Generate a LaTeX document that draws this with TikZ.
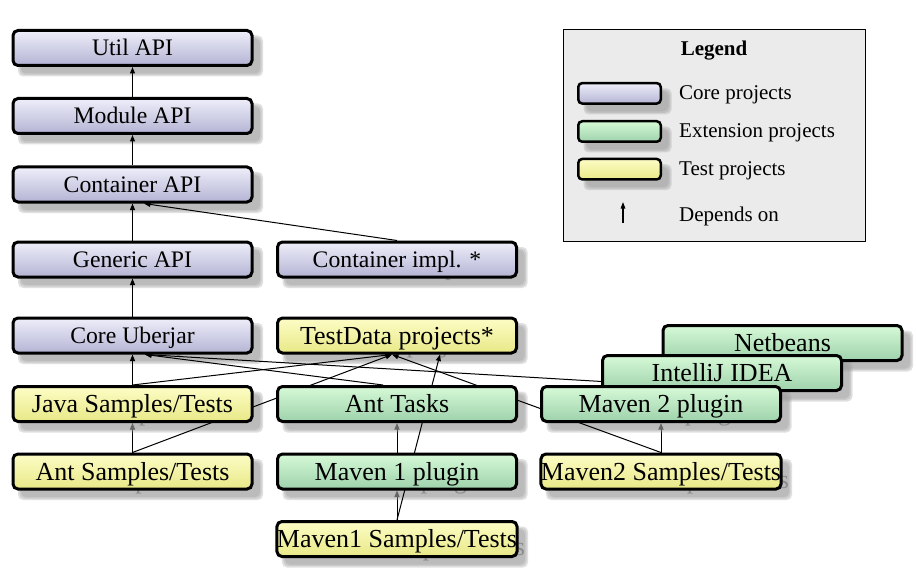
\documentclass[tikz,border=0pt]{standalone}
\usepackage{fontspec}
\setmainfont{Liberation Serif}
\usetikzlibrary{arrows.meta}
\pgfdeclarelayer{low}
\pgfdeclarelayer{shadowl}
\pgfdeclarelayer{tshadow}
\pgfdeclarelayer{high}
\pgfsetlayers{low,shadowl,tshadow,high,main}

\definecolor{coretop}{RGB}{238,238,250}
\definecolor{corebot}{RGB}{180,180,212}
\definecolor{exttop}{RGB}{214,249,214}
\definecolor{extbot}{RGB}{158,210,172}
\definecolor{testtop}{RGB}{253,253,198}
\definecolor{testbot}{RGB}{232,232,135}
\definecolor{legendbg}{RGB}{235,235,235}

\tikzset{
  corefont/.style={font=\fontsize{23.7}{28}\selectfont, text height=15.7pt, text depth=0pt},
  otherfont/.style={font=\fontsize{26}{30}\selectfont, text height=17.2pt, text depth=0pt},
  projbox/.style={rectangle, rounded corners=5pt, draw=black, line width=3pt,
    minimum width=239pt, minimum height=35pt, inner sep=0pt},
  corebox/.style={projbox, corefont, top color=coretop, bottom color=corebot},
  extbox/.style={projbox, otherfont, top color=exttop, bottom color=extbot},
  testbox/.style={projbox, otherfont, top color=testtop, bottom color=testbot},
  swatch/.style={line width=2.5pt, minimum width=82.5pt, minimum height=20.5pt, rounded corners=4pt},
  shadowfill/.style={fill=black!40, opacity=0.3, rounded corners=5pt},
  dep/.style={line width=1pt, -{Triangle[length=6.5pt,width=5pt]}},
  legarrow/.style={line width=1.2pt, -{Triangle[length=6.5pt,width=4.5pt]}},
  legendbox/.style={rectangle, draw=black, line width=1pt, fill=legendbg,
    minimum width=301.5pt, minimum height=211pt, inner sep=0pt},
  legendtext/.style={font=\fontsize{21}{25}\selectfont, inner sep=0pt},
}

\newcommand\proj[6]{%
  \node[#2] (#1) at (#4,#5) {#6};
  \begin{pgfonlayer}{shadowl}
    \foreach \d in {-1.5,0,1.5}{%
      \fill[shadowfill] ([shift={({8-\d},{8-\d})}]#1.north west) rectangle ([shift={({8+\d},{8+\d})}]#1.south east);
    }
  \end{pgfonlayer}
  \begin{pgfonlayer}{tshadow}
    \node[#3, inner sep=0pt, text=black!45] at ({#4+8},{#5+8}) {#6};
  \end{pgfonlayer}%
}

\begin{document}
\begin{tikzpicture}[x=1pt,y=-1pt]
\useasboundingbox (0,0) rectangle (916,575);
\begin{pgfonlayer}{low}
  \fill[white] (0,0) rectangle (916,575);
  \node[legendbox] (legend) at (714.25,135.5) {};
\end{pgfonlayer}

% legend
\node[legendtext, font=\bfseries\fontsize{21}{25}\selectfont, anchor=base] (legendtitle) at (714,55.7) {Legend};
\proj{swcore}{corebox, swatch}{corefont}{619.5}{93.3}{}
\proj{swext}{extbox, swatch}{otherfont}{619.5}{131.5}{}
\proj{swtest}{testbox, swatch}{otherfont}{619.5}{169.2}{}
\node[legendtext, anchor=base west] (lcore) at (679,100) {Core projects};
\node[legendtext, anchor=base west] (lext) at (679,137.7) {Extension projects};
\node[legendtext, anchor=base west] (ltest) at (679,175.7) {Test projects};
\node[legendtext, anchor=base west] (ldep) at (679,221) {Depends on};
\coordinate (arrS) at (623,223);
\coordinate (arrE) at (623,202);
\draw[legarrow] (arrS) -- (arrE);

% project nodes
\proj{util}{corebox}{corefont}{132.5}{48}{Util API}
\proj{module}{corebox}{corefont}{132.5}{116}{Module API}
\proj{cont}{corebox}{corefont}{132.5}{184.5}{Container API}
\proj{generic}{corebox}{corefont}{132.5}{259.5}{Generic API}
\proj{cimpl}{corebox}{corefont}{397}{259.5}{Container impl. *}
\proj{core}{corebox}{corefont}{132.5}{335.5}{Core Uberjar}
\proj{testdata}{testbox}{otherfont}{397}{335.5}{TestData projects*}
\proj{javas}{testbox}{otherfont}{132.5}{404}{Java Samples/Tests}
\proj{ant}{extbox}{otherfont}{397}{404}{Ant Tasks}
\proj{netbeans}{extbox}{otherfont}{782.5}{343}{Netbeans}
\proj{idea}{extbox}{otherfont}{722}{373}{IntelliJ IDEA}
\proj{mvn2}{extbox}{otherfont}{661}{404}{Maven 2 plugin}
\proj{ants}{testbox}{otherfont}{132.5}{471.5}{Ant Samples/Tests}
\proj{mvn1}{extbox}{otherfont}{397}{471.5}{Maven 1 plugin}
\proj{mvn2s}{testbox}{otherfont}{661}{471.5}{Maven2 Samples/Tests}
\proj{mvn1s}{testbox}{otherfont}{397}{539}{Maven1 Samples/Tests}

% dependencies
\begin{pgfonlayer}{high}
  \draw[dep] (module.north) -- (util.south);
  \draw[dep] (cont.north) -- (module.south);
  \draw[dep] (generic.north) -- (cont.south);
  \draw[dep] (cimpl.north) -- ([xshift=11.5pt]cont.south);
  \draw[dep] (core.north) -- (generic.south);
  \draw[dep] (javas.north) -- (core.south);
  \draw[dep] (javas.north) -- ([xshift=-5pt]testdata.south);
  \draw[dep] ([xshift=-14pt]ant.north) -- ([xshift=12.5pt]core.south);
  \draw[dep] (mvn2.north) -- ([xshift=12.5pt]core.south);
  \draw[dep] (ants.north) -- ([xshift=-5pt]testdata.south);
  \draw[dep] (mvn1s.north) -- ([xshift=43pt]testdata.south);
  \draw[dep] (mvn2s.north) -- ([xshift=-5pt]testdata.south);
\end{pgfonlayer}
\begin{pgfonlayer}{low}
  \draw[dep] (ants.north) -- (javas.south);
  \draw[dep] (mvn1.north) -- (ant.south);
  \draw[dep] (mvn1s.north) -- (mvn1.south);
  \draw[dep] (mvn2s.north) -- (mvn2.south);
\end{pgfonlayer}
\end{tikzpicture}
\end{document}
